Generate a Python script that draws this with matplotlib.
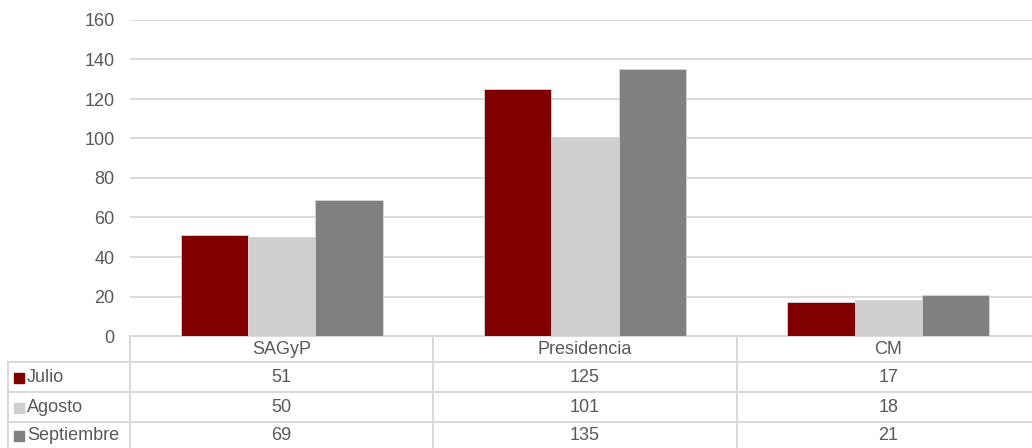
import matplotlib
matplotlib.use('Agg')
import matplotlib.pyplot as plt
import numpy as np

# datos
categorias = ['SAGyP', 'Presidencia', 'CM']
meses = ['Julio', 'Agosto', 'Septiembre']
julio = [51, 125, 17]
agosto = [50, 101, 18]
septiembre = [69, 135, 21]
colores = ['#800000', '#D0CECF', '#808080']

plt.rcParams['font.family'] = ['Liberation Sans', 'DejaVu Sans']
texto = '#595959'
linea = '#D9D9D9'

W, H = 1032, 448
fig = plt.figure(figsize=(W / 100, H / 100), dpi=100)

# grafico de barras
ax = fig.add_axes([130 / W, (H - 336) / H, (1040 - 130) / W, (336 - 20) / H])
x = np.arange(len(categorias))
ancho = 0.222
series = [julio, agosto, septiembre]
for i, (vals, c) in enumerate(zip(series, colores)):
    ax.bar(x + (i - 1) * ancho, vals, ancho, color=c, edgecolor='#D6D6D6',
           linewidth=0.6, zorder=3)

ax.set_xlim(-0.5, 2.5)
ax.set_ylim(0, 160)
ax.set_yticks(range(0, 161, 20))
ax.grid(axis='y', color=linea, linewidth=1.4, zorder=0)
ax.set_axisbelow(True)
ax.set_xticks([])
for s in ax.spines.values():
    s.set_visible(False)
ax.tick_params(axis='y', length=0, pad=11, labelsize=13, labelcolor=texto)

# tabla de datos (en pixeles)
fig.canvas.draw()
cols = [ax.transData.transform((v, 0))[0] for v in [-0.5, 0.5, 1.5, 2.5]]
centros = [ax.transData.transform((v, 0))[0] for v in x]

tb = fig.add_axes([0, 0, 1, 1], zorder=-1)
tb.set_xlim(0, W)
tb.set_ylim(H, 0)
tb.axis('off')

filas = [336, 362, 392, 422, 450]
izq = 8
# lineas horizontales
tb.plot([cols[0], cols[-1]], [filas[0], filas[0]], color=linea, lw=1.4)
for yy in filas[1:]:
    tb.plot([izq, cols[-1]], [yy, yy], color=linea, lw=1.4)
# lineas verticales
tb.plot([izq, izq], [filas[1], filas[-1]], color=linea, lw=1.4)
for xx in cols:
    tb.plot([xx, xx], [filas[0], filas[-1]], color=linea, lw=1.4)

# encabezados
for cx, nom in zip(centros, categorias):
    tb.text(cx, (filas[0] + filas[1]) / 2 + 1, nom, ha='center', va='center',
            fontsize=13, color=texto)

# filas
for r, (mes, vals, c) in enumerate(zip(meses, series, colores)):
    yc = (filas[r + 1] + min(filas[r + 2], 448)) / 2 + 1
    tb.add_patch(plt.Rectangle((14, yc - 5), 10, 10, color=c))
    tb.text(27, yc, mes, ha='left', va='center', fontsize=13, color=texto)
    for cx, v in zip(centros, vals):
        tb.text(cx, yc, str(v), ha='center', va='center', fontsize=13, color=texto)

fig.savefig('out.png', dpi=100)
